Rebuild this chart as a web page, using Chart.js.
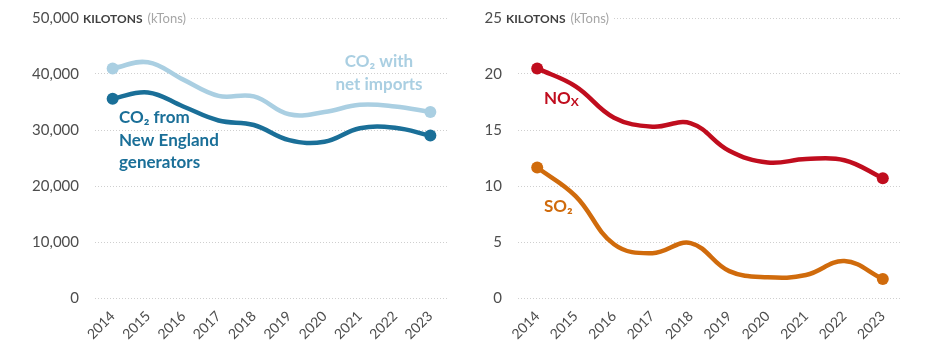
<!DOCTYPE html>
<html>
<head>
<meta charset="utf-8">
<script src="https://cdn.jsdelivr.net/npm/chart.js@4"></script>
<style>
  body { margin: 0; background: #fff; }
  .wrap { display: flex; width: 936px; height: 359px; }
  .panel { position: relative; height: 359px; }
</style>
</head>
<body>
<div class="wrap">
  <div class="panel" style="width:470px"><canvas id="co2Chart" width="470" height="359"></canvas></div>
  <div class="panel" style="width:466px"><canvas id="airChart" width="466" height="359"></canvas></div>
</div>
<script>
const years = ["2014", "2015", "2016", "2017", "2018", "2019", "2020", "2021", "2022", "2023"];

// kilotons
const co2NetImports = [41000, 42100, 39000, 36100, 36000, 32800, 33200, 34500, 34200, 33200];
const co2Generators = [35600, 36700, 34200, 31700, 30900, 28200, 27900, 30300, 30400, 29000];
const noxValues = [20.5, 18.9, 16.1, 15.3, 15.6, 13.15, 12.1, 12.4, 12.3, 10.7];
const so2Values = [11.65, 9.1, 4.8, 4.0, 4.9, 2.4, 1.85, 2.05, 3.3, 1.7];

const co2Ticks = { min: 0, max: 50000, step: 10000 };
const airTicks = { min: 0, max: 25, step: 5 };

const FONT = "Lato, 'Open Sans', sans-serif";
const TICK_COLOR = "#4d4d4d";

function endPoints(ctx) {
  const last = ctx.dataset.data.length - 1;
  return (ctx.dataIndex === 0 || ctx.dataIndex === last) ? 6 : 0;
}

function lineSet(data, color) {
  return {
    data: data,
    borderColor: color,
    backgroundColor: color,
    borderWidth: 4.5,
    tension: 0.4,
    pointRadius: endPoints,
    pointHoverRadius: endPoints,
    pointBorderWidth: 0
  };
}

// draws "KILOTONS (kTons)" next to the top tick label
const unitTitle = {
  id: "unitTitle",
  afterDraw(chart) {
    const ctx = chart.ctx;
    const y = chart.scales.y.getPixelForValue(chart.scales.y.max);
    const x = chart.chartArea.left - 12;
    ctx.save();
    ctx.font = "bold 12px " + FONT;
    const w1 = ctx.measureText("KILOTONS").width;
    ctx.font = "13px " + FONT;
    const w2 = ctx.measureText("(kTons)").width;
    ctx.fillStyle = "#fff";
    ctx.fillRect(x, y - 8, w1 + w2 + 10, 16);
    ctx.textBaseline = "middle";
    ctx.fillStyle = "#404040";
    ctx.font = "bold 12px " + FONT;
    ctx.fillText("KILOTONS", x, y + 1);
    ctx.fillStyle = "#a6a6a6";
    ctx.font = "13px " + FONT;
    ctx.fillText("(kTons)", x + w1 + 5, y + 1);
    ctx.restore();
  }
};

// series labels; each part is [text, fontSize, dy]
const seriesLabels = {
  id: "seriesLabels",
  afterDraw(chart, args, opts) {
    const ctx = chart.ctx;
    ctx.save();
    ctx.textBaseline = "middle";
    (opts.items || []).forEach(item => {
      ctx.fillStyle = item.color;
      item.lines.forEach((parts, i) => {
        let total = 0;
        parts.forEach(p => { ctx.font = "bold " + p[1] + "px " + FONT; total += ctx.measureText(p[0]).width; });
        let x = item.align === "center" ? item.x - total / 2 : item.x;
        const y = item.y + i * item.lineHeight;
        parts.forEach(p => {
          ctx.font = "bold " + p[1] + "px " + FONT;
          ctx.fillText(p[0], x, y + (p[2] || 0));
          x += ctx.measureText(p[0]).width;
        });
      });
    });
    ctx.restore();
  }
};

function makeOptions(ticks, yWidth, rightPad, labels) {
  return {
    responsive: false,
    animation: false,
    layout: { padding: { top: 18, right: rightPad, left: 0, bottom: 0 } },
    plugins: {
      legend: { display: false },
      tooltip: { enabled: false },
      seriesLabels: { items: labels }
    },
    scales: {
      x: {
        offset: true,
        grid: { display: false },
        border: { display: false },
        ticks: {
          color: TICK_COLOR, font: { family: FONT, size: 14 },
          minRotation: 45, maxRotation: 45, padding: 2
        },
        afterFit(scale) { scale.height = 61; }
      },
      y: {
        min: ticks.min, max: ticks.max,
        grid: { color: "#cfcfcf", lineWidth: 1, drawTicks: true, tickLength: 16, tickColor: "rgba(0,0,0,0)" },
        border: { display: false, dash: [1, 2] },
        ticks: {
          stepSize: ticks.step, color: TICK_COLOR, padding: 0,
          font: { family: FONT, size: 15 },
          callback: v => v.toLocaleString("en-US")
        },
        afterFit(scale) { scale.width = yWidth; }
      }
    }
  };
}

new Chart(document.getElementById("co2Chart"), {
  type: "line",
  data: {
    labels: years,
    datasets: [
      lineSet(co2NetImports, "#aacfe2"),
      lineSet(co2Generators, "#1a6f98")
    ]
  },
  options: makeOptions(co2Ticks, 95, 22, [
    { color: "#aacfe2", x: 379, y: 62, lineHeight: 23, align: "center",
      lines: [[["CO\u2082 with", 17]], [["net imports", 17]]] },
    { color: "#1a6f98", x: 119, y: 118, lineHeight: 22.5, align: "left",
      lines: [[["CO\u2082 from", 17]], [["New England", 17]], [["generators", 17]]] }
  ]),
  plugins: [unitTitle, seriesLabels]
});

new Chart(document.getElementById("airChart"), {
  type: "line",
  data: {
    labels: years,
    datasets: [
      lineSet(noxValues, "#c00d1e"),
      lineSet(so2Values, "#d06b0c")
    ]
  },
  options: makeOptions(airTicks, 48, 34, [
    { color: "#c00d1e", x: 544, y: 99, lineHeight: 22, align: "left",
      lines: [[["NO", 17], ["X", 12, 3]]] },
    { color: "#d06b0c", x: 544, y: 207, lineHeight: 22, align: "left",
      lines: [[["SO\u2082", 17]]] }
  ].map(l => Object.assign({}, l, { x: l.x - 470 }))),
  plugins: [unitTitle, seriesLabels]
});
</script>
</body>
</html>
